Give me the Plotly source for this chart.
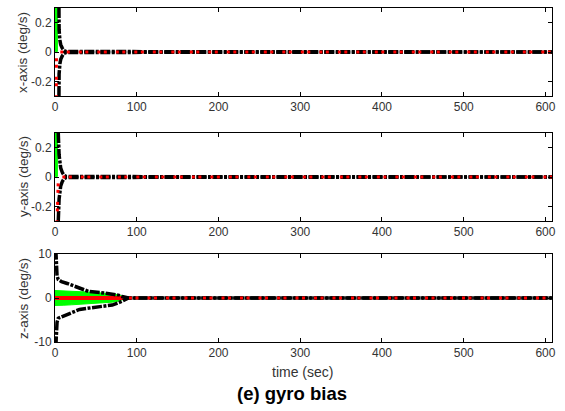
import plotly.graph_objects as go

# ---------------- data ----------------
x_ticks = [0, 100, 200, 300, 400, 500, 600]
y_ticks_xy = [-0.2, 0, 0.2]
y_ticks_z = [-10, 0, 10]

# x-axis gyro bias
x_green_t = [0.6, 0.9, 1.2, 1.5, 1.8, 2.2, 3.0]
x_green_v = [2.0, 0.3, 0.06, 0.02, 0.008, 0.003, 0.0]
x_red_t = [0.6, 0.9, 1.2, 1.5, 1.8, 2.2, 3.0, 5.0, 610]
x_red_v = [-2.0, -0.3, -0.06, -0.03, -0.015, -0.008, -0.004, 0.0, 0.0]
x_up_t = [3.5, 4, 5, 6, 7, 9, 11, 14, 610]
x_up_v = [1.5, 0.3, 0.15, 0.08, 0.05, 0.025, 0.01, 0.003, 0.0]
x_lo_t = [3.5, 4, 5, 6, 7, 9, 11, 14, 610]
x_lo_v = [-1.5, -0.3, -0.15, -0.08, -0.05, -0.025, -0.01, -0.003, 0.0]

# y-axis gyro bias
y_green_t = [0.6, 0.9, 1.2, 1.5, 1.8, 2.2, 3.0]
y_green_v = [2.0, 0.3, 0.06, 0.02, 0.008, 0.003, 0.0]
y_red_t = [0.6, 1.0, 2.0, 2.5, 3.0, 3.5, 4.0, 5.0, 7.0, 610]
y_red_v = [-2.0, -1.0, -0.6, -0.3, -0.12, -0.05, -0.02, -0.008, 0.0, 0.0]
y_up_t = [3.0, 3.5, 4, 5, 6, 7, 9, 11, 14, 610]
y_up_v = [1.5, 0.5, 0.3, 0.15, 0.08, 0.06, 0.03, 0.012, 0.003, 0.0]
y_lo_t = [3.0, 3.5, 4, 5, 6, 7, 9, 11, 14, 610]
y_lo_v = [-1.5, -0.5, -0.3, -0.15, -0.08, -0.06, -0.03, -0.012, -0.003, 0.0]

# z-axis gyro bias
z_band_t = [0, 10, 20, 30, 40, 50, 60, 70, 76, 80, 84, 88]
z_band_up = [1.7, 1.65, 1.55, 1.45, 1.35, 1.25, 1.1, 0.95, 0.8, 0.6, 0.3, 0.0]
z_red_t = [0, 86, 610]
z_red_v = [0.0, 0.0, 0.0]
z_up_t = [1.0, 1.5, 2.0, 2.5, 4, 8, 15, 28, 41, 55, 69, 76, 82, 86, 90, 610]
z_up_v = [11, 9, 6.5, 5, 4.2, 3.7, 3.3, 2.4, 1.5, 1.25, 1.0, 0.7, 0.35, 0.1, 0.0, 0.0]
z_lo_t = [1.0, 1.5, 2.0, 2.5, 4, 8, 15, 30, 45, 55, 70, 80, 86, 90, 610]
z_lo_v = [-11, -9, -7, -5.5, -4.6, -4.3, -3.8, -2.6, -2.2, -1.9, -1.6, -0.9, -0.3, 0.0, 0.0]

GREEN = "#00ff00"
RED = "#ff0000"
BLACK = "#000000"
TXT = "#333333"
FONT = "Liberation Sans, Arial, sans-serif"

BLACK_DASH = "10px,1.5px,3px,1.5px"
RED_DASH = "3px,3.5px,3px,9px"

fig = go.Figure()

def add_panel(xa, ya, g_t, g_v, r_t, r_v, u_t, u_v, l_t, l_v):
    fig.add_trace(go.Scatter(x=g_t, y=g_v, mode="lines", xaxis=xa, yaxis=ya,
                             line=dict(color=GREEN, width=3), showlegend=False))
    for t, v in ((u_t, u_v), (l_t, l_v)):
        fig.add_trace(go.Scatter(x=t, y=v, mode="lines", xaxis=xa, yaxis=ya,
                                 line=dict(color=BLACK, width=3.5, dash=BLACK_DASH),
                                 showlegend=False))
    fig.add_trace(go.Scatter(x=r_t, y=r_v, mode="lines", xaxis=xa, yaxis=ya,
                             line=dict(color=RED, width=3, dash=RED_DASH),
                             showlegend=False))

add_panel("x", "y", x_green_t, x_green_v, x_red_t, x_red_v, x_up_t, x_up_v, x_lo_t, x_lo_v)
add_panel("x2", "y2", y_green_t, y_green_v, y_red_t, y_red_v, y_up_t, y_up_v, y_lo_t, y_lo_v)

# z panel
band_x = z_band_t + z_band_t[::-1]
band_y = z_band_up + [-v for v in z_band_up[::-1]]
fig.add_trace(go.Scatter(x=band_x, y=band_y, mode="lines", fill="toself", xaxis="x3", yaxis="y3",
                         fillcolor=GREEN, line=dict(color=GREEN, width=1), showlegend=False))
fig.add_trace(go.Scatter(x=z_red_t[:2], y=z_red_v[:2], mode="lines", xaxis="x3", yaxis="y3",
                         line=dict(color=RED, width=4), showlegend=False))
for t, v in ((z_up_t, z_up_v), (z_lo_t, z_lo_v)):
    fig.add_trace(go.Scatter(x=t, y=v, mode="lines", xaxis="x3", yaxis="y3",
                             line=dict(color=BLACK, width=3.5, dash=BLACK_DASH), showlegend=False))
fig.add_trace(go.Scatter(x=z_red_t, y=z_red_v, mode="lines", xaxis="x3", yaxis="y3",
                         line=dict(color=RED, width=3, dash=RED_DASH), showlegend=False))

H = 411.0
def dom(top, bot):
    return [1 - bot / H, 1 - top / H]

axis_common = dict(showline=True, linecolor=BLACK, linewidth=1, mirror="ticks",
                   ticks="inside", ticklen=4, tickcolor=BLACK, tickwidth=1,
                   showgrid=False, zeroline=False, automargin=False,
                   tickfont=dict(family=FONT, size=12, color=TXT))

xcommon = dict(axis_common, range=[0, 608], tickvals=x_ticks, domain=[0, 1])
fig.update_layout(
    width=565, height=411,
    margin=dict(l=55, r=13, t=0, b=0, autoexpand=False),
    paper_bgcolor="white", plot_bgcolor="white",
    xaxis=dict(xcommon, anchor="y"),
    xaxis2=dict(xcommon, anchor="y2"),
    xaxis3=dict(xcommon, anchor="y3"),
    yaxis=dict(axis_common, range=[-0.3, 0.3], tickvals=y_ticks_xy, ticktext=["-0.2", "0", "0.2"],
               domain=dom(8, 96), anchor="x"),
    yaxis2=dict(axis_common, range=[-0.3, 0.3], tickvals=y_ticks_xy, ticktext=["-0.2", "0", "0.2"],
                domain=dom(133, 221), anchor="x2"),
    yaxis3=dict(axis_common, range=[-10, 10], tickvals=y_ticks_z, ticktext=["-10", "0", "10"],
                domain=dom(254, 342), anchor="x3"),
)

PW = 565 - 55 - 13
def px_x(p):
    return (p - 55) / PW

def px_y(p):
    return 1 - p / H

for label, yc in (("x-axis (deg/s)", 53), ("y-axis (deg/s)", 177), ("z-axis (deg/s)", 299)):
    fig.add_annotation(text=label, xref="paper", yref="paper", x=px_x(23), y=px_y(yc),
                       textangle=-90, showarrow=False, xanchor="center", yanchor="middle",
                       font=dict(family=FONT, size=13.5, color=TXT))

fig.add_annotation(text="time (sec)", xref="paper", yref="paper", x=px_x(302), y=px_y(372),
                   showarrow=False, xanchor="center", yanchor="middle",
                   font=dict(family=FONT, size=14, color=TXT))
fig.add_annotation(text="<b>(e) gyro bias</b>", xref="paper", yref="paper", x=px_x(291.5), y=px_y(393),
                   showarrow=False, xanchor="center", yanchor="middle",
                   font=dict(family=FONT, size=18.5, color=BLACK))

fig.write_html("out.html", config={"displayModeBar": False},
               post_script="document.body.style.margin='0';document.body.style.overflow='hidden';")
